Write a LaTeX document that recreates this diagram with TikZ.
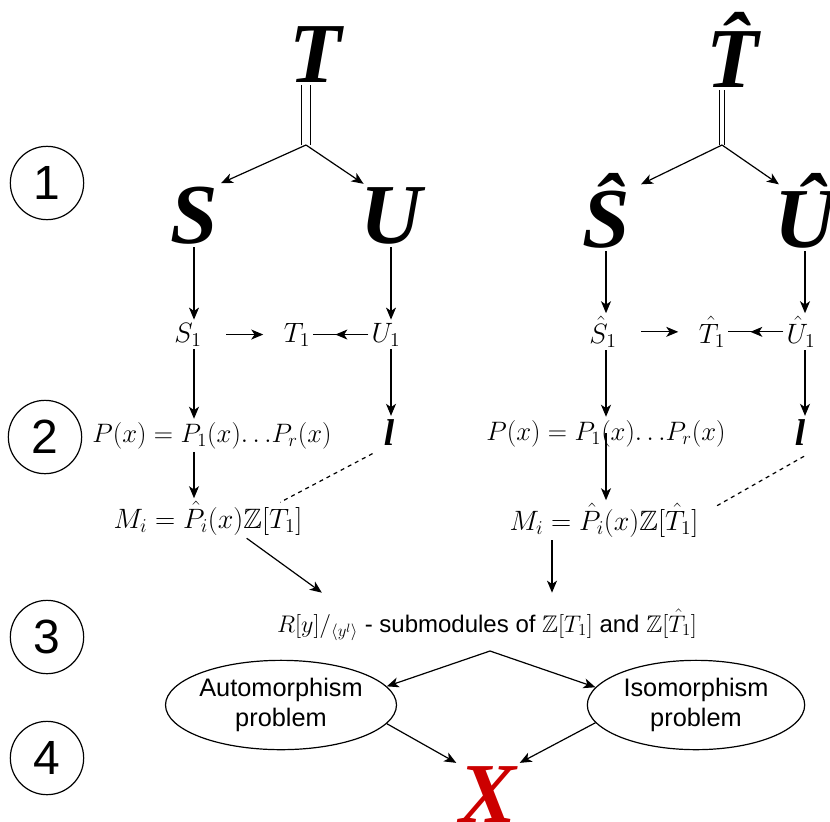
\RequirePackage{fix-cm}
\documentclass[tikz,border=0pt]{standalone}
\usepackage{amsmath,amssymb}
\usepackage[no-math]{fontspec}
\setmainfont{Liberation Sans}
\newfontfamily\letterfont{Liberation Serif}
\usetikzlibrary{arrows.meta,shapes.geometric,decorations.markings}
\definecolor{xred}{HTML}{CC0000}

\begin{document}
\begin{tikzpicture}[x=0.75pt,y=-0.75pt,line width=0.9pt,>={Stealth[length=9pt,width=7.5pt,inset=2.5pt]}]
  \tikzset{bigletter/.style={font=\fontsize{64}{64}\letterfont\bfseries\itshape,inner sep=2pt,anchor=base},
    term/.style={font=\fontsize{21}{24}\selectfont,inner sep=2pt,anchor=base},
    stage/.style={draw,circle,minimum size=55pt,inner sep=0pt,font=\fontsize{36}{36}\selectfont},
    problem/.style={draw,ellipse,minimum width=163pt,minimum height=67pt,inner sep=0pt,align=center,font=\fontsize{19}{22}\selectfont},
    midarrow/.style={postaction={decorate},decoration={markings,mark=at position 0.6 with {\arrow{>}}}}}
  \useasboundingbox (0,0) rectangle (830,821);
  \node[stage] (one) at (47,183) {1};
  \node[stage] (two) at (45,437) {2};
  \node[stage] (three) at (47,637) {3};
  \node[stage] (four) at (47,758) {4};
  \node[bigletter] (T) at (316,82) {T};
  \node[bigletter] (S) at (194,243) {S};
  \node[bigletter] (U) at (391,243) {U};
  \coordinate (tj) at (306,145);
  \draw[double,double distance=6pt] (T.south -| tj) -- (tj);
  \draw[->] (tj) -- (S.north east);
  \draw[->] (tj) -- ([xshift=5pt]U.north west);
  \node[bigletter] (Th) at (733,87) {\^T};
  \node[bigletter] (Sh) at (606,247) {\^S};
  \node[bigletter] (Uh) at (805,247) {\^U};
  \coordinate (thj) at (722,145);
  \draw[double,double distance=3pt] (Th.south -| thj) -- (thj);
  \draw[->] (thj) -- ([xshift=6pt,yshift=-11pt]Sh.north east);
  \draw[->] (thj) -- ([xshift=6pt,yshift=-11pt]Uh.north west);
  \node[term] (S1) at (188,342) {$S_1$};
  \node[term] (T1) at (297,342) {$T_1$};
  \node[term] (U1) at (386,342) {$U_1$};
  \draw[->] (S.south) -- (S.south |- S1.north);
  \draw[->] (U.south) -- (U.south |- U1.north);
  \draw[->,shorten <=16pt,shorten >=13pt] (S1.east) -- (T1.west);
  \draw[midarrow] (U1.west) -- (T1.east);
  \node[term] (Sh1) at (603,343) {$\hat{S}_1$};
  \node[term] (Th1) at (712,343) {$\hat{T}_1$};
  \node[term] (Uh1) at (801,343) {$\hat{U}_1$};
  \draw[->] (Sh.south) -- (Sh.south |- Sh1.north);
  \draw[->] (Uh.south) -- (Uh.south |- Uh1.north);
  \draw[->,shorten <=16pt,shorten >=13pt] (Sh1.east) -- (Th1.west);
  \draw[midarrow] (Uh1.west) -- (Th1.east);
  \node[term,font=\fontsize{20}{24}\selectfont] (P) at (212,442) {$P(x)=P_1(x)\!\ldots\! P_r(x)$};
  \node[term,font=\fontsize{28}{28}\letterfont\bfseries\itshape] (l) at (389,445) {l};
  \node[term] (M) at (208,528) {$M_i=\hat{P}_i(x)\mathbb{Z}[T_1]$};
  \draw[->] (S1.south -| S.south) -- (S.south |- P.north);
  \draw[->] (U1.south -| U.south) -- (U.south |- l.north);
  \draw[->] (P.south -| S.south) -- (S.south |- M.north);
  \draw[dashed] ([xshift=-6pt,yshift=-4pt]l.south west) -- ([xshift=-19pt,yshift=-3pt]M.north east);
  \node[term,font=\fontsize{20}{24}\selectfont] (Pr) at (606,440) {$P(x)=P_1(x)\!\ldots\! P_r(x)$};
  \node[term,font=\fontsize{28}{28}\letterfont\bfseries\itshape] (lh) at (800,445) {l};
  \node[term] (Mr) at (604,530) {$M_i=\hat{P}_i(x)\mathbb{Z}[\hat{T}_1]$};
  \draw[->] (Sh1.south -| Sh.south) -- (Sh.south |- Pr.north);
  \draw[->] (Uh1.south -| Uh.south) -- (Uh.south |- lh.north);
  \draw[->] (Pr.center -| Sh.south) -- (Sh.south |- Mr.north);
  \draw[dashed] ([xshift=3pt,yshift=-6pt]lh.south) -- ([xshift=10pt,yshift=-5pt]Mr.north east);
  \node[term,font=\fontsize{18}{20}\selectfont] (R) at (487,632) {$R[y]/_{\langle y^l\rangle}$ - submodules of $\mathbb{Z}[T_1]$ and $\mathbb{Z}[\hat{T}_1]$};
  \draw[->] ([xshift=29pt]M.south) -- ([xshift=36pt,yshift=10pt]R.north west);
  \draw[->,shorten >=10pt] ([xshift=-39pt]Mr.south) -- ([xshift=-39pt]Mr.south |- R.north);
  \coordinate (rj) at (490,651);
  \node[problem] (A) at (281,705) {Automorphism\\problem};
  \node[problem] (I) at (696,705) {Isomorphism\\problem};
  \draw[->] (rj) -- (A.10);
  \draw[->] (rj) -- (I.170);
  \node[bigletter,text=xred] (X) at (488,822) {X};
  \draw[->] (A.-10) -- (X.north west);
  \draw[->] (I.190) -- (X.north east);
\end{tikzpicture}
\end{document}
